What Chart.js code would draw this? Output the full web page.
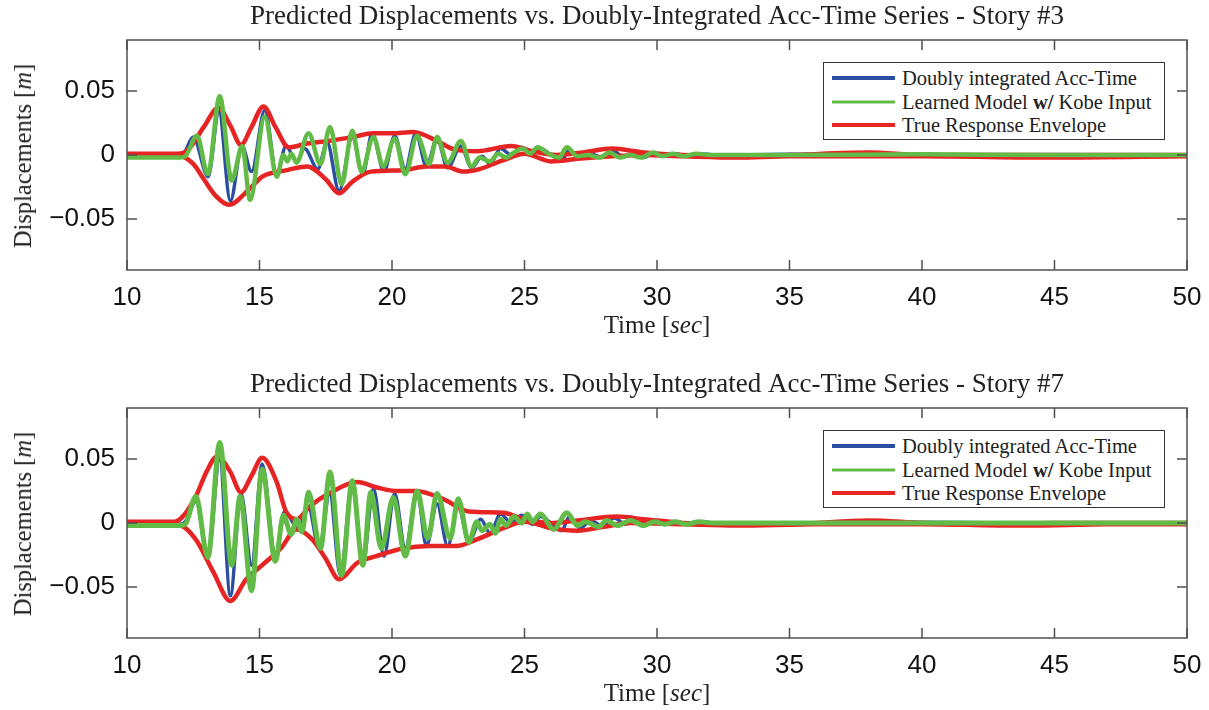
<!DOCTYPE html>
<html>
<head>
<meta charset="utf-8">
<script src="https://cdn.jsdelivr.net/npm/chart.js@4.4.1/dist/chart.umd.min.js"></script>
<style>
  body { margin: 0; background: #fff; width: 1209px; height: 710px; position: relative; overflow: hidden; }
  .panel { position: absolute; left: 0; width: 1209px; height: 342px; }
  .panel canvas { position: absolute; left: 0; top: 0; }
  .xlab, .ylab { position: absolute; font-family: 'Liberation Serif', serif; color: #222; white-space: nowrap; }
  .xlab { left: 657px; top: 325px; font-size: 25px; transform: translate(-50%, -50%); }
  .ylab { left: 23px; top: 156px; font-size: 24.5px; transform: translate(-50%, -50%) rotate(-90deg); }
  .legend { position: absolute; left: 823px; top: 62px; width: 342px; height: 78px; box-sizing: border-box;
            border: 1px solid #333; background: #fff; font-family: 'Liberation Serif', serif; font-size: 20.5px; color: #222; }
  .legend .row { position: absolute; left: 0; height: 24px; width: 100%; }
  .legend .swatch { position: absolute; left: 8px; width: 63px; top: 50%; transform: translateY(-50%); }
  .legend .txt { position: absolute; left: 78px; top: 50%; transform: translateY(-50%); white-space: nowrap; }
</style>
</head>
<body>
<div class="panel" id="p3" style="top:0px">
  <canvas id="story3" width="1209" height="342"></canvas>
  <div class="ylab">Displacements [<i>m</i>]</div>
  <div class="xlab">Time [<i>sec</i>]</div>
</div>
<div class="panel" id="p7" style="top:368px">
  <canvas id="story7" width="1209" height="342"></canvas>
  <div class="ylab">Displacements [<i>m</i>]</div>
  <div class="xlab">Time [<i>sec</i>]</div>
</div>
<script>
// axis ticks
const xTicks = [10, 15, 20, 25, 30, 35, 40, 45, 50];
const yTicks = [-0.05, 0, 0.05];
const yTickLabels = ['\u22120.05', '0', '0.05'];

const legendLabels = ['Doubly integrated Acc-Time', 'Learned Model w/ Kobe Input', 'True Response Envelope'];
const story3Title = 'Predicted Displacements vs. Doubly-Integrated Acc-Time Series - Story #3';
const story7Title = 'Predicted Displacements vs. Doubly-Integrated Acc-Time Series - Story #7';

// Story #3 : [time sec, displacement m]  (peaks/troughs)
const story3Blue = [[10, -0.001], [11, -0.001], [11.8, -0.001], [12.1, 0.000], [12.5, 0.014], [13.06, -0.017], [13.47, 0.034],
  [13.9, -0.036], [14.34, 0.007], [14.7, -0.013], [15.2, 0.035], [15.65, -0.015], [16.0, 0.007], [16.4, -0.005], [16.7, 0.005],
  [17.2, -0.011], [17.55, 0.010], [18.0, -0.028], [18.5, 0.014], [18.9, -0.015], [19.25, 0.017], [19.7, -0.013], [20.1, 0.015],
  [20.5, -0.011], [20.9, 0.017], [21.3, -0.009], [21.7, 0.013], [22.1, -0.010], [22.6, 0.007], [23.0, -0.010], [23.4, -0.001],
  [23.7, -0.007], [24.1, 0.005], [24.5, 0.000], [24.9, 0.006], [25.3, 0.001], [25.6, 0.005], [26.0, 0.000], [26.4, -0.004],
  [26.7, 0.004], [27.1, -0.002], [27.5, 0.001], [27.9, -0.002], [28.3, 0.004], [28.7, -0.001], [29.1, 0.001], [29.5, -0.002],
  [29.9, 0.002], [30.3, -0.001], [30.7, 0.001], [31.1, -0.001], [31.6, 0.001], [32.2, 0.000], [35, 0.0005], [40, 0.000],
  [45, -0.0005], [50, 0.000]];
const story3Green = [[10, -0.002], [11, -0.002], [12.0, -0.002], [12.2, -0.001], [12.64, 0.015], [13.05, -0.015], [13.5, 0.046],
  [13.95, -0.020], [14.35, 0.007], [14.64, -0.035], [15.2, 0.030], [15.65, -0.017], [15.9, 0.000], [16.05, -0.005], [16.2, 0.001],
  [16.4, -0.006], [16.85, 0.017], [17.3, -0.007], [17.66, 0.022], [18.1, -0.023], [18.5, 0.019], [18.85, -0.013], [19.3, 0.014],
  [19.67, -0.009], [20.1, 0.013], [20.5, -0.015], [20.95, 0.015], [21.4, -0.007], [21.7, 0.014], [22.1, -0.006], [22.6, 0.011],
  [23.0, -0.009], [23.3, -0.002], [23.7, -0.005], [24.0, 0.001], [24.3, -0.002], [24.6, 0.002], [24.95, 0.005], [25.2, 0.001],
  [25.5, 0.006], [25.9, 0.001], [26.3, -0.002], [26.6, 0.006], [27.0, -0.001], [27.4, 0.000], [27.85, -0.002], [28.2, 0.002],
  [28.6, -0.002], [29.0, 0.000], [29.4, -0.002], [29.85, 0.002], [30.2, -0.001], [30.6, 0.001], [31.0, -0.001], [31.5, 0.001],
  [32.0, 0.000], [35, 0.000], [40, 0.0005], [45, 0.000], [50, 0.000]];
const story3Upper = [[10, 0.001], [11, 0.001], [11.9, 0.001], [12.3, 0.004], [12.9, 0.022], [13.45, 0.037], [13.9, 0.023],
  [14.3, 0.008], [14.7, 0.022], [15.15, 0.038], [15.6, 0.022], [16.1, 0.006], [16.8, 0.009], [17.6, 0.011], [18.5, 0.014],
  [19.3, 0.017], [20.0, 0.017], [20.8, 0.018], [21.7, 0.011], [22.4, 0.004], [23.2, 0.003], [24.5, 0.007], [25.3, 0.003],
  [26.2, 0.000], [27.2, 0.002], [28.3, 0.005], [29.5, 0.002], [31, 0.000], [33, -0.001], [35, 0.000], [38, 0.002], [40, 0.000],
  [45, 0.000], [50, 0.000]];
const story3Lower = [[10, -0.001], [11, -0.001], [12.0, -0.001], [12.5, -0.007], [12.9, -0.019], [13.35, -0.032], [13.85, -0.039],
  [14.6, -0.027], [15.1, -0.017], [16.0, -0.012], [16.8, -0.009], [17.5, -0.019], [18.0, -0.030], [18.5, -0.021], [19.2, -0.013],
  [20.4, -0.012], [21.3, -0.009], [22.0, -0.009], [22.7, -0.013], [23.3, -0.011], [24.2, -0.004], [25.0, 0.001], [26.0, -0.005],
  [27.0, -0.003], [28.3, -0.001], [29.5, 0.000], [31, -0.001], [33, -0.002], [35, -0.001], [40, -0.001], [45, -0.002], [50, -0.001]];

// Story #7
const story7Blue = [[10, 0.000], [11, 0.000], [12.0, -0.001], [12.2, 0.001], [12.6, 0.017], [13.05, -0.027], [13.5, 0.050],
  [13.9, -0.057], [14.3, 0.023], [14.7, -0.033], [15.1, 0.046], [15.6, -0.026], [15.95, 0.009], [16.45, -0.004], [16.85, 0.012],
  [17.25, -0.020], [17.65, 0.023], [18.05, -0.041], [18.5, 0.032], [18.9, -0.032], [19.3, 0.027], [19.7, -0.026], [20.1, 0.023],
  [20.5, -0.020], [20.95, 0.024], [21.3, -0.018], [21.7, 0.015], [22.1, -0.018], [22.5, 0.013], [22.9, -0.015], [23.35, 0.003],
  [23.7, -0.008], [24.1, 0.007], [24.5, 0.000], [24.9, 0.006], [25.3, -0.001], [25.6, 0.005], [26.0, 0.000], [26.4, -0.006],
  [26.7, 0.005], [27.1, -0.004], [27.5, 0.002], [27.9, -0.002], [28.4, 0.004], [28.8, -0.001], [29.1, 0.002], [29.5, -0.002],
  [29.9, 0.002], [30.3, -0.001], [30.7, 0.001], [31.1, -0.001], [31.6, 0.001], [32.2, 0.000], [35, 0.000], [40, 0.0005],
  [45, 0.000], [50, 0.000]];
const story7Green = [[10, -0.002], [11, -0.002], [12.0, -0.002], [12.2, -0.001], [12.6, 0.021], [13.05, -0.027], [13.5, 0.063],
  [13.95, -0.033], [14.27, 0.021], [14.7, -0.053], [15.1, 0.042], [15.6, -0.030], [15.9, 0.006], [16.2, -0.009], [16.4, 0.003],
  [16.6, -0.007], [16.85, 0.024], [17.3, -0.020], [17.66, 0.040], [18.1, -0.041], [18.5, 0.033], [18.9, -0.033], [19.2, 0.024],
  [19.6, -0.020], [20.05, 0.020], [20.5, -0.026], [20.95, 0.025], [21.35, -0.012], [21.7, 0.023], [22.2, -0.012], [22.5, 0.019],
  [22.9, -0.015], [23.2, 0.001], [23.4, -0.006], [23.7, -0.001], [23.9, -0.008], [24.1, 0.003], [24.3, -0.002], [24.6, 0.005],
  [24.9, 0.000], [25.1, 0.007], [25.3, 0.001], [25.6, 0.007], [26.1, -0.005], [26.6, 0.008], [27.0, -0.002], [27.3, 0.001],
  [27.8, -0.003], [28.1, 0.002], [28.5, -0.002], [29.0, 0.002], [29.5, -0.002], [29.9, 0.001], [30.3, -0.001], [30.7, 0.001],
  [31.1, -0.001], [31.6, 0.001], [32.1, 0.000], [35, 0.000], [40, 0.000], [45, 0.000], [50, 0.000]];
const story7Upper = [[10, 0.001], [11, 0.001], [11.8, 0.001], [12.1, 0.005], [12.6, 0.021], [13.0, 0.040], [13.4, 0.052],
  [13.9, 0.040], [14.3, 0.024], [14.7, 0.037], [15.1, 0.051], [15.65, 0.032], [16.0, 0.009], [16.4, 0.003], [16.9, 0.013],
  [17.7, 0.024], [18.7, 0.032], [19.4, 0.028], [20.2, 0.025], [20.9, 0.025], [21.9, 0.019], [22.9, 0.009], [24.2, 0.008],
  [25.0, 0.003], [26.0, 0.000], [27.0, 0.002], [28.5, 0.005], [29.5, 0.003], [31, 0.000], [33, -0.001], [35, -0.001],
  [38, 0.002], [40, 0.000], [42, -0.001], [45, 0.000], [50, 0.000]];
const story7Lower = [[10, -0.001], [11, -0.001], [12.0, -0.002], [12.6, -0.013], [13.25, -0.038], [13.9, -0.061], [14.5, -0.044],
  [15.1, -0.033], [15.8, -0.020], [16.4, -0.005], [17.0, -0.013], [17.5, -0.028], [18.0, -0.044], [18.7, -0.031], [19.4, -0.026],
  [20.4, -0.020], [21.4, -0.018], [22.4, -0.018], [23.3, -0.012], [24.2, -0.004], [25.0, 0.001], [26.0, -0.004], [27.0, -0.006],
  [28.0, -0.003], [29.0, 0.000], [31, -0.001], [33, -0.002], [36, -0.001], [40, -0.001], [44, -0.002], [47, -0.001], [50, -0.001]];

const BLUE = '#2b4ea2';
const GREEN = '#62bb46';
const RED = '#e62424';

const toXY = (pairs) => pairs.map(p => ({ x: p[0], y: p[1] }));

// MATLAB style box with inward ticks
const framePlugin = {
  id: 'frame',
  afterDatasetsDraw(chart) {
    const { ctx, chartArea: a, scales: { x, y } } = chart;
    ctx.save();
    ctx.strokeStyle = '#505050';
    ctx.lineWidth = 1.5;
    ctx.strokeRect(a.left, a.top, a.right - a.left, a.bottom - a.top);
    ctx.beginPath();
    xTicks.forEach(v => {
      const px = x.getPixelForValue(v);
      ctx.moveTo(px, a.bottom); ctx.lineTo(px, a.bottom - 10);
      ctx.moveTo(px, a.top); ctx.lineTo(px, a.top + 10);
    });
    yTicks.forEach(v => {
      const py = y.getPixelForValue(v);
      ctx.moveTo(a.left, py); ctx.lineTo(a.left + 10, py);
      ctx.moveTo(a.right, py); ctx.lineTo(a.right - 10, py);
    });
    ctx.stroke();
    ctx.restore();
  }
};

function makeChart(id, title, blue, green, upper, lower, greenWidth) {
  const ctx = document.getElementById(id).getContext('2d');
  const line = (label, data, color, width, order) => ({
    label: label, data: toXY(data), borderColor: color, backgroundColor: color, borderWidth: width,
    pointRadius: 0, cubicInterpolationMode: 'monotone', fill: false, order: order
  });
  const chart = new Chart(ctx, {
    type: 'line',
    data: {
      datasets: [
        line(legendLabels[0], blue, BLUE, 3.5, 3),
        line(legendLabels[1], green, GREEN, greenWidth, 0),
        line(legendLabels[2], upper, RED, 4.5, 1),
        line('', lower, RED, 4.5, 2)
      ]
    },
    options: {
      responsive: false,
      animation: false,
      devicePixelRatio: 1,
      events: [],
      layout: { padding: { left: 0, right: 22, top: 0, bottom: 32 } },
      plugins: {
        legend: { display: false },
        tooltip: { enabled: false },
        title: {
          display: true,
          text: title,
          fullSize: false,
          color: '#222',
          font: { family: 'Liberation Serif', size: 27, weight: 'normal' },
          padding: { top: 1, bottom: 6.6 }
        }
      },
      scales: {
        x: {
          type: 'linear', min: 10, max: 50,
          afterBuildTicks: (s) => { s.ticks = xTicks.map(v => ({ value: v })); },
          afterFit: (s) => { s.height = 40; s.paddingLeft = 0; s.paddingRight = 0; },
          grid: { display: false, drawTicks: false },
          border: { display: false },
          ticks: { color: '#111', padding: 12, maxRotation: 0, autoSkip: false,
                   font: { family: 'Liberation Sans', size: 26 } }
        },
        y: {
          type: 'linear', min: -0.09, max: 0.09,
          afterBuildTicks: (s) => { s.ticks = yTicks.map(v => ({ value: v })); },
          afterFit: (s) => { s.width = 127; s.paddingTop = 0; s.paddingBottom = 0; },
          grid: { display: false, drawTicks: false },
          border: { display: false },
          ticks: { color: '#111', padding: 12,
                   font: { family: 'Liberation Sans', size: 26 },
                   callback: (value, index) => yTickLabels[index] }
        }
      }
    },
    plugins: [framePlugin]
  });

  // legend box inside the axes, built from the datasets
  const panel = document.getElementById(id).parentNode;
  const box = document.createElement('div');
  box.className = 'legend';
  const rowTops = [3, 27, 50];
  chart.data.datasets.filter(d => d.label).forEach((d, i) => {
    const row = document.createElement('div');
    row.className = 'row';
    row.style.top = rowTops[i] + 'px';
    const sw = document.createElement('div');
    sw.className = 'swatch';
    sw.style.background = d.borderColor;
    sw.style.height = (i === 1 ? 3 : 4) + 'px';
    const tx = document.createElement('span');
    tx.className = 'txt';
    tx.innerHTML = d.label.replace('w/', '<b>w/</b>');
    row.appendChild(sw);
    row.appendChild(tx);
    box.appendChild(row);
  });
  panel.appendChild(box);
  return chart;
}

makeChart('story3', story3Title, story3Blue, story3Green, story3Upper, story3Lower, 4.5);
makeChart('story7', story7Title, story7Blue, story7Green, story7Upper, story7Lower, 5);
</script>
</body>
</html>
